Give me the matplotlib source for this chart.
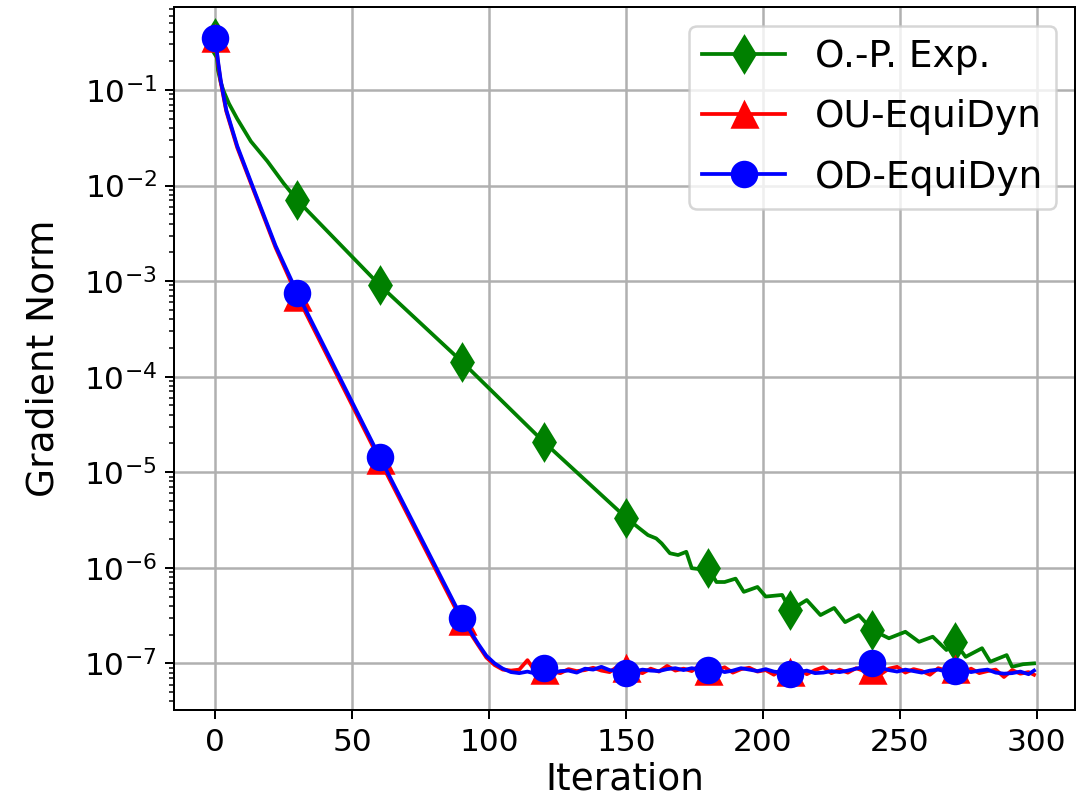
import matplotlib
matplotlib.use("Agg")
import matplotlib.pyplot as plt
from matplotlib.ticker import NullFormatter

# ---- series data -------------------------------------------------------
# O.-P. Exp.
op_iters = [0, 1, 2, 3, 5, 8, 13, 19, 25, 30, 60, 90, 120, 150,
            155, 158, 161, 163, 166, 169, 172, 174, 178, 180,
            183, 186, 190, 193, 198, 201, 207, 210, 216, 221,
            226, 230, 235, 240, 246, 252, 257, 262, 267, 270,
            274, 280, 283, 289, 291, 295, 299]
op_values = [0.35, 0.16, 0.12, 0.098, 0.072, 0.050, 0.029, 0.018, 0.0105, 7.0e-3,
             9.1e-4, 1.44e-4, 2.07e-5, 3.35e-6,
             2.57e-6, 2.20e-6, 2.03e-6, 1.80e-6, 1.42e-6, 1.36e-6, 1.47e-6,
             9.9e-7, 9.6e-7, 1.0e-6,
             7.1e-7, 7.1e-7, 7.7e-7, 5.6e-7, 6.3e-7, 5.0e-7, 5.2e-7, 3.6e-7,
             4.6e-7, 3.2e-7, 3.8e-7, 2.7e-7, 3.2e-7, 2.23e-7, 1.83e-7,
             2.14e-7, 1.68e-7, 1.90e-7, 1.38e-7, 1.68e-7,
             1.17e-7, 1.44e-7, 1.04e-7, 1.22e-7, 9.2e-8, 9.8e-8, 1.0e-7]

# EquiDyn variants share the same sampling of iterations
eq_iters = [0, 1, 2, 4, 8, 14, 22, 30, 60, 90, 93, 96, 99, 102] + list(range(105, 298, 3)) + [299]

ou_head = [0.35, 0.19, 0.12, 0.060, 0.025, 8.9e-3, 2.25e-3, 6.9e-4,
           1.35e-5, 2.8e-7, 2.1e-7, 1.55e-7, 1.15e-7, 9.6e-8]
# plateau values in units of 1e-8
ou_floor_e8 = [8.6, 8.4, 8.6, 10.8, 8.1, 8.6, 8.2, 7.9, 8.7, 8.3,
               8.5, 9.0, 8.4, 8.1, 9.3, 8.9, 8.3, 7.9, 8.8, 8.2,
               9.4, 8.4, 8.8, 8.3, 9.6, 8.3, 8.5, 9.1, 8.0, 8.7,
               9.0, 8.2, 8.5, 7.6, 8.8, 8.1, 8.9, 7.7, 8.5, 9.1,
               7.9, 8.6, 8.0, 8.9, 8.3, 8.6, 7.7, 8.8, 9.2, 8.0,
               8.7, 8.3, 7.6, 8.9, 8.4, 8.7, 8.0, 8.8, 7.9, 8.3,
               8.6, 7.2, 8.5, 7.8, 8.1, 7.6]

od_head = [0.35, 0.20, 0.125, 0.062, 0.026, 9.2e-3, 2.35e-3, 7.45e-4,
           1.45e-5, 3.0e-7, 2.2e-7, 1.6e-7, 1.2e-7, 1.0e-7]
od_floor_e8 = [8.8, 8.1, 7.9, 8.2, 7.8, 8.85, 7.9, 8.3, 8.4, 8.0,
               8.8, 8.6, 9.2, 8.5, 8.3, 8.0, 8.2, 8.6, 8.4, 8.3,
               8.7, 8.9, 8.5, 8.9, 8.6, 8.5, 8.7, 8.1, 8.4, 8.9,
               8.6, 8.3, 8.7, 8.2, 8.0, 7.7, 8.1, 8.4, 7.9, 8.0,
               8.3, 8.1, 8.4, 8.8, 9.2, 10.0, 9.0, 8.5, 8.2, 8.6,
               8.3, 8.0, 8.4, 8.6, 8.2, 8.4, 8.5, 8.1, 8.4, 8.6,
               8.0, 7.8, 7.9, 8.2, 7.7, 8.4]

ou_values = ou_head + [v * 1e-8 for v in ou_floor_e8]
od_values = od_head + [v * 1e-8 for v in od_floor_e8]

labels = ["O.-P. Exp.", "OU-EquiDyn", "OD-EquiDyn"]
marker_step = 30


def marker_idx(iters):
    return [i for i, t in enumerate(iters) if t % marker_step == 0]


# ---- figure --------------------------------------------------------------
fig = plt.figure(figsize=(1083 / 180, 810 / 180), dpi=180)
ax = fig.add_axes([0.161, 0.123, 0.8316, 0.8684])

ax.plot(op_iters, op_values, color="g", marker="d", markersize=10,
        linewidth=1.5, markevery=marker_idx(op_iters), label=labels[0])
ax.plot(eq_iters, ou_values, color="r", marker="^", markersize=10,
        linewidth=1.5, markevery=marker_idx(eq_iters), label=labels[1])
ax.plot(eq_iters, od_values, color="b", marker="o", markersize=10,
        linewidth=1.5, markevery=marker_idx(eq_iters), label=labels[2])

ax.set_yscale("log")
ax.set_xlim(-14.95, 313.95)
ax.set_ylim(10 ** -7.492, 10 ** -0.131)
ax.set_xticks([0, 50, 100, 150, 200, 250, 300])
ax.yaxis.set_minor_formatter(NullFormatter())

ax.grid(True, which="major", color="#b0b0b0", linewidth=1.0)
ax.tick_params(axis="both", which="major", labelsize=12.5)
ax.set_xlabel("Iteration", fontsize=15, labelpad=2)
ax.set_ylabel("Gradient Norm", fontsize=15, labelpad=9)

ax.legend(loc="upper right", fontsize=15, handlelength=2.2,
          labelspacing=0.65, borderpad=0.35)

fig.savefig("out.png", dpi=180)
